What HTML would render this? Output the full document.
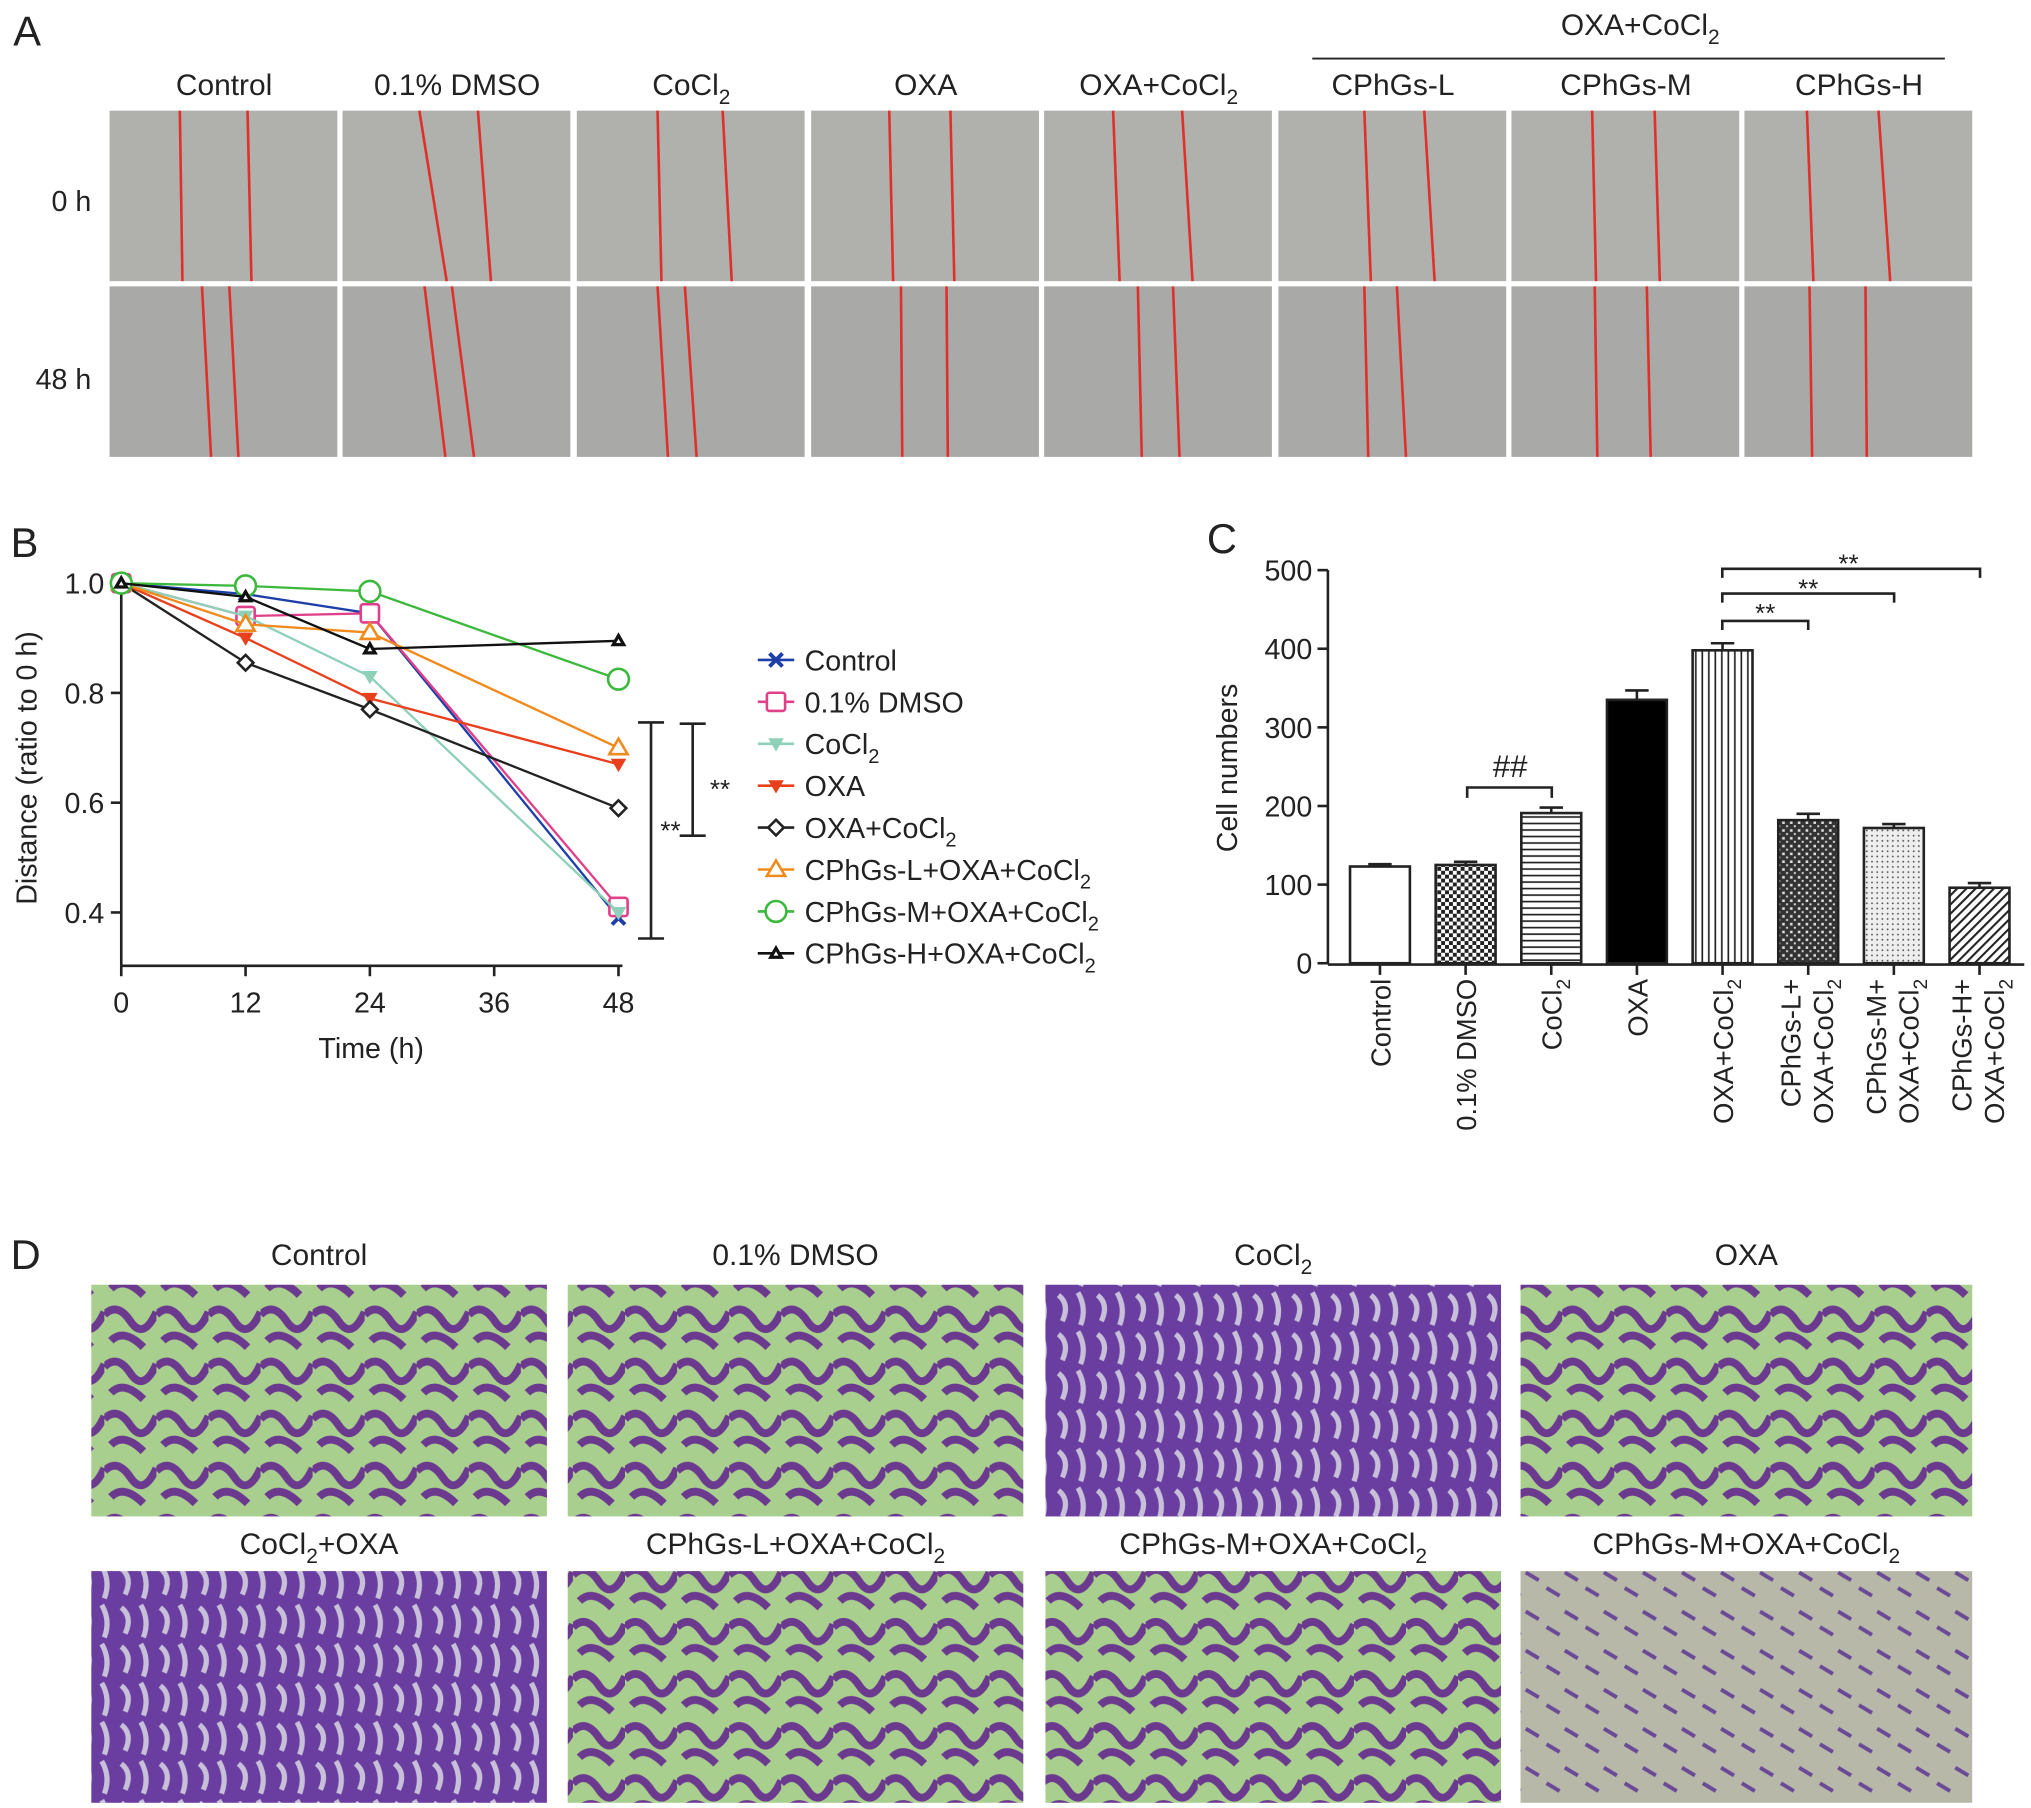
<!DOCTYPE html>
<html><head><meta charset="utf-8"><style>
html,body{margin:0;padding:0;background:#fff;}
svg{display:block;font-family:"Liberation Sans",Arial,sans-serif;}
</style></head><body>
<svg id="fig" width="2031" height="1808" viewBox="0 0 1560 1389" xmlns="http://www.w3.org/2000/svg">
<defs>
<pattern id="pCheck" width="6" height="6" patternUnits="userSpaceOnUse"><rect width="6" height="6" fill="#fff"/><rect width="3" height="3" fill="#222"/><rect x="3" y="3" width="3" height="3" fill="#222"/></pattern>
<pattern id="pHoriz" width="6" height="5" patternUnits="userSpaceOnUse"><rect width="6" height="5" fill="#fff"/><rect y="2" width="6" height="1.3" fill="#222"/></pattern>
<pattern id="pVert" width="5" height="6" patternUnits="userSpaceOnUse"><rect width="5" height="6" fill="#fff"/><rect x="2" width="1.3" height="6" fill="#222"/></pattern>
<pattern id="pBrick" width="6" height="6" patternUnits="userSpaceOnUse"><rect width="6" height="6" fill="#333"/><rect x="1" y="1" width="2" height="2" fill="#ddd"/><rect x="4" y="4" width="1.5" height="1.5" fill="#ddd"/></pattern>
<pattern id="pDots" width="4" height="4" patternUnits="userSpaceOnUse"><rect width="4" height="4" fill="#eee"/><circle cx="2" cy="2" r="0.7" fill="#555"/></pattern>
<pattern id="pDiag" width="5" height="5" patternUnits="userSpaceOnUse" patternTransform="rotate(45)"><rect width="5" height="5" fill="#fff"/><rect width="1.6" height="5" fill="#222"/></pattern>
<pattern id="pGreen" width="40" height="40" patternUnits="userSpaceOnUse"><rect width="40" height="40" fill="#a9cf8e"/><path d="M0 10 Q10 0 20 15 T40 8 M5 30 Q15 20 30 35" stroke="#6b3a8f" stroke-width="6" fill="none"/></pattern>
<pattern id="pPurple" width="30" height="30" patternUnits="userSpaceOnUse"><rect width="30" height="30" fill="#6a3ea0"/><path d="M3 5 Q12 12 6 25 M18 3 Q25 15 20 28" stroke="#c7c0d8" stroke-width="4" fill="none"/></pattern>
<pattern id="pGray" width="30" height="30" patternUnits="userSpaceOnUse"><rect width="30" height="30" fill="#b7b8a8"/><path d="M2 8 L12 14 M18 20 L28 26" stroke="#6a4a96" stroke-width="3" fill="none"/></pattern>
</defs>
<g id="panelA"></g>
<g id="panelB"></g>
<g id="panelC"></g>
<g id="panelD"></g>
</svg>
<script>
// ---- Panel B data ----
const times = [0, 12, 24, 48];
const seriesNames = ["Control","0.1% DMSO","CoCl2","OXA","OXA+CoCl2","CPhGs-L+OXA+CoCl2","CPhGs-M+OXA+CoCl2","CPhGs-H+OXA+CoCl2"];
const sControl = [1, 0.98, 0.945, 0.39];
const sDMSO = [1, 0.94, 0.945, 0.41];
const sCoCl2 = [1, 0.94, 0.83, 0.40];
const sOXA = [1, 0.90, 0.79, 0.67];
const sOXACoCl2 = [1, 0.855, 0.77, 0.59];
const sL = [1, 0.925, 0.91, 0.70];
const sM = [1, 0.995, 0.985, 0.825];
const sH = [1, 0.975, 0.88, 0.895];
const xTicksB = [0, 12, 24, 36, 48];
const yTicksB = [1.0, 0.8, 0.6, 0.4];
// ---- Panel C data ----
const barCats = ["Control","0.1% DMSO","CoCl2","OXA","OXA+CoCl2","CPhGs-L+ OXA+CoCl2","CPhGs-M+ OXA+CoCl2","CPhGs-H+ OXA+CoCl2"];
const barVals = [123, 125, 191, 335, 398, 182, 172, 96];
const barErrs = [3, 4, 7, 12, 9, 8, 5, 6];
const yTicksC = [0, 100, 200, 300, 400, 500];

const NS = "http://www.w3.org/2000/svg";
function el(tag, attrs, parent, text){
  const e = document.createElementNS(NS, tag);
  for (const k in attrs) e.setAttribute(k, attrs[k]);
  if (text !== undefined) e.textContent = text;
  parent.appendChild(e); return e;
}
function sub(parent, x, y, base, size, anchor, extra){
  // text with CoCl2 subscript handling
  const t = el('text', Object.assign({x:x, y:y, 'font-size':size, 'text-anchor':anchor||'start', fill:'#222'}, extra||{}), parent);
  const parts = base.split(/(CoCl2)/);
  parts.forEach(p=>{
    if (p === 'CoCl2'){
      const a = document.createElementNS(NS,'tspan'); a.textContent='CoCl'; t.appendChild(a);
      const b = document.createElementNS(NS,'tspan'); b.textContent='2'; b.setAttribute('font-size', size*0.7); b.setAttribute('dy', size*0.3); t.appendChild(b);
      const c = document.createElementNS(NS,'tspan'); c.setAttribute('dy', -size*0.3); c.textContent='\u200b'; t.appendChild(c);
    } else if (p) { const a = document.createElementNS(NS,'tspan'); a.textContent=p; t.appendChild(a); }
  });
  return t;
}

// ---------- Panel A ----------
const A = document.getElementById('panelA');
el('text',{x:10,y:35,'font-size':32,fill:'#222'},A,'A');
const colX = [84,263,443,623,802,982,1161,1340];
const colLab = ["Control","0.1% DMSO","CoCl2","OXA","OXA+CoCl2","CPhGs-L","CPhGs-M","CPhGs-H"];
const redA = [[138,190,140,193],[322,367,343,377],[505,555,508,562],[683,730,686,733],[855,908,860,916],[1048,1094,1053,1102],[1223,1271,1226,1275],[1388,1443,1393,1452]];
const redB = [[155,176,162,183],[326,347,342,364],[505,526,513,535],[692,727,693,728],[874,901,877,906],[1048,1073,1051,1080],[1225,1265,1227,1268],[1390,1433,1392,1434]];
colX.forEach((x,i)=>{
  const lab = sub(A, x+88, 73, colLab[i], 23, 'middle');
  
  
  [[85,216,redA],[220,351,redB]].forEach(([y0,y1,red],r)=>{
    const im = el('rect',{x:x,y:y0,width:175,height:y1-y0,fill: r? '#a9a9a7':'#b0b0ad'},A);
    
    
    const l = red[i];
    el('line',{x1:l[0],y1:y0,x2:l[2],y2:y1,stroke:'#e0302a','stroke-width':2},A);
    el('line',{x1:l[1],y1:y0,x2:l[3],y2:y1,stroke:'#e0302a','stroke-width':2},A);
  });
});
el('text',{x:70,y:162,'font-size':22,'text-anchor':'end',fill:'#222'},A,'0 h');
el('text',{x:70,y:299,'font-size':22,'text-anchor':'end',fill:'#222'},A,'48 h');
el('line',{x1:1008,y1:45,x2:1494,y2:45,stroke:'#222','stroke-width':1.5},A);
sub(A,1260,27,'OXA+CoCl2',23,'middle');

// ---------- Panel B ----------
const B = document.getElementById('panelB');
el('text',{x:8,y:428,'font-size':32,fill:'#222'},B,'B');
const bx = t => 93 + t*(475-93)/48;
const by = v => 448 + (1.0 - v)*(701-448)/0.6;
el('line',{x1:93,y1:440,x2:93,y2:742,stroke:'#222','stroke-width':2},B);
el('line',{x1:93,y1:742,x2:478,y2:742,stroke:'#222','stroke-width':2},B);
xTicksB.forEach(t=>{
  el('line',{x1:bx(t),y1:742,x2:bx(t),y2:750,stroke:'#222','stroke-width':2},B);
  el('text',{x:bx(t),y:778,'font-size':22,'text-anchor':'middle',fill:'#222'},B,String(t));
});
yTicksB.forEach(v=>{
  el('line',{x1:85,y1:by(v),x2:93,y2:by(v),stroke:'#222','stroke-width':2},B);
  el('text',{x:80,y:by(v)+8,'font-size':22,'text-anchor':'end',fill:'#222'},B,v.toFixed(1));
});
el('text',{x:285,y:813,'font-size':22,'text-anchor':'middle',fill:'#222'},B,'Time (h)');
el('text',{x:28,y:590,'font-size':22,'text-anchor':'middle',fill:'#222',transform:'rotate(-90 28 590)'},B,'Distance (ratio to 0 h)');
const allSeries = [sControl,sDMSO,sCoCl2,sOXA,sOXACoCl2,sL,sM,sH];
const colors = ['#1f3fa8','#e0408a','#8fd0b8','#e8401c','#222','#f08a1c','#3cb83c','#111'];
const markers = ['x','sq','tri-down','tri-down-fill','dia','tri','circ','tri-fill'];
function marker(g,type,x,y,c,s){
  const m = {stroke:c,'stroke-width':2,fill:'#fff'};
  let e;
  if(type==='x'){ e=el('path',{d:`M${x-5} ${y-5}L${x+5} ${y+5}M${x-5} ${y+5}L${x+5} ${y-5}`,stroke:c,'stroke-width':3},g);}
  else if(type==='sq'){ e=el('rect',Object.assign({x:x-s,y:y-s,width:2*s,height:2*s,rx:2},m),g);}
  else if(type==='tri-down'){ e=el('path',{d:`M${x-s} ${y-s*0.7}L${x+s} ${y-s*0.7}L${x} ${y+s}Z`,fill:c},g);}
  else if(type==='tri-down-fill'){ e=el('path',{d:`M${x-s} ${y-s*0.7}L${x+s} ${y-s*0.7}L${x} ${y+s}Z`,fill:c},g);}
  else if(type==='dia'){ e=el('path',Object.assign({d:`M${x} ${y-s}L${x+s} ${y}L${x} ${y+s}L${x-s} ${y}Z`},m),g);}
  else if(type==='tri'){ e=el('path',Object.assign({d:`M${x} ${y-s}L${x+s} ${y+s*0.7}L${x-s} ${y+s*0.7}Z`},m),g);}
  else if(type==='circ'){ e=el('circle',Object.assign({cx:x,cy:y,r:s},m),g);}
  else { e=el('path',{d:`M${x} ${y-s*0.8}L${x+s*0.8} ${y+s*0.6}L${x-s*0.8} ${y+s*0.6}Z`,fill:'#fff',stroke:c,'stroke-width':2.5},g);}
  return e;
}
const sizes=[6,7,6,6,6,7,8,5];
allSeries.forEach((s,i)=>{
  const g = el('g',{},B);
  
  
  el('polyline',{points:s.map((v,j)=>bx(times[j])+','+by(v)).join(' '),fill:'none',stroke:colors[i],'stroke-width':1.8},g);
  s.forEach((v,j)=>{
    const p = marker(g,markers[i],bx(times[j]),by(v),colors[i],sizes[i]);
    
    
  });
  // legend
  const ly = 507 + i*32.2;
  const lg = el('g',{},B);
  
  
  el('line',{x1:582,y1:ly,x2:610,y2:ly,stroke:colors[i],'stroke-width':2},lg);
  marker(lg,markers[i],596,ly,colors[i],sizes[i]);
  sub(lg,618,ly+8,seriesNames[i],22,'start');
});
// significance brackets
el('path',{d:'M490 555H510M500 555V721M490 721H510',stroke:'#222','stroke-width':2,fill:'none'},B);
el('path',{d:'M522 556H542M532 556V642M522 642H542',stroke:'#222','stroke-width':2,fill:'none'},B);
el('text',{x:515,y:645,'font-size':20,'text-anchor':'middle',fill:'#222'},B,'**');
el('text',{x:553,y:613,'font-size':20,'text-anchor':'middle',fill:'#222'},B,'**');

// ---------- Panel C ----------
const C = document.getElementById('panelC');
el('text',{x:927,y:425,'font-size':32,fill:'#222'},C,'C');
const cy = v => 740 - v*(740-438)/500;
const cx = i => 1060 + i*65.8;
el('line',{x1:1020,y1:438,x2:1020,y2:741,stroke:'#222','stroke-width':2},C);
el('line',{x1:1020,y1:741,x2:1555,y2:741,stroke:'#222','stroke-width':2},C);
yTicksC.forEach(v=>{
  el('line',{x1:1012,y1:cy(v),x2:1020,y2:cy(v),stroke:'#222','stroke-width':2},C);
  el('text',{x:1008,y:cy(v)+8,'font-size':22,'text-anchor':'end',fill:'#222'},C,String(v));
});
el('text',{x:950,y:590,'font-size':22,'text-anchor':'middle',fill:'#222',transform:'rotate(-90 950 590)'},C,'Cell numbers');
const fills = ['#fff','url(#pCheck)','url(#pHoriz)','#000','url(#pVert)','url(#pBrick)','url(#pDots)','url(#pDiag)'];
barVals.forEach((v,i)=>{
  const x = cx(i);
  const b = el('rect',{x:x-23,y:cy(v),width:46,height:cy(0)-cy(v),fill:fills[i],stroke:'#222','stroke-width':2},C);
  
  
  el('path',{d:`M${x} ${cy(v)}V${cy(v+barErrs[i])}M${x-9} ${cy(v+barErrs[i])}H${x+9}`,stroke:'#222','stroke-width':2},C);
  el('line',{x1:x,y1:741,x2:x,y2:749,stroke:'#222','stroke-width':2},C);
  const lines = barCats[i].split(' OXA');
  if (i>=5){
    sub(C,0,0,lines[0],21,'end',{transform:`translate(${x-6} 752) rotate(-90)`});
    sub(C,0,0,'OXA'+lines[1],21,'end',{transform:`translate(${x+19} 752) rotate(-90)`});
  } else {
    sub(C,0,0,barCats[i],21,'end',{transform:`translate(${x+8} 752) rotate(-90)`});
  }
});
// significance
el('path',{d:'M1127 613V605H1192V613',stroke:'#222','stroke-width':2,fill:'none'},C);
el('text',{x:1160,y:597,'font-size':24,'text-anchor':'middle',fill:'#222'},C,'##');
[[1389,484,480],[1455,463,459],[1521,444,440]].forEach(([x2,y,ty])=>{
  el('path',{d:`M1323 ${y}V${y-7}H${x2}V${y}`,stroke:'#222','stroke-width':2,fill:'none'},C);
});
el('text',{x:1356,y:478,'font-size':20,'text-anchor':'middle',fill:'#222'},C,'**');
el('text',{x:1389,y:459,'font-size':20,'text-anchor':'middle',fill:'#222'},C,'**');
el('text',{x:1420,y:440,'font-size':20,'text-anchor':'middle',fill:'#222'},C,'**');

// ---------- Panel D ----------
const D = document.getElementById('panelD');
el('text',{x:8,y:975,'font-size':32,fill:'#222'},D,'D');
const dX = [[70,420],[436,786],[803,1153],[1168,1515]];
const dLab = [["Control","0.1% DMSO","CoCl2","OXA"],["CoCl2+OXA","CPhGs-L+OXA+CoCl2","CPhGs-M+OXA+CoCl2","CPhGs-M+OXA+CoCl2"]];
const dFill = [["url(#pGreen)","url(#pGreen)","url(#pPurple)","url(#pGreen)"],["url(#pPurple)","url(#pGreen)","url(#pGreen)","url(#pGray)"]];
[[987,1165,972],[1207,1385,1194]].forEach(([y0,y1,ly],r)=>{
  dX.forEach(([x0,x1],i)=>{
    const rc = el('rect',{x:x0,y:y0,width:x1-x0,height:y1-y0,fill:dFill[r][i]},D);
    
    
    sub(D,(x0+x1)/2,ly,dLab[r][i],23,'middle');
  });
});
</script>
</body></html>
